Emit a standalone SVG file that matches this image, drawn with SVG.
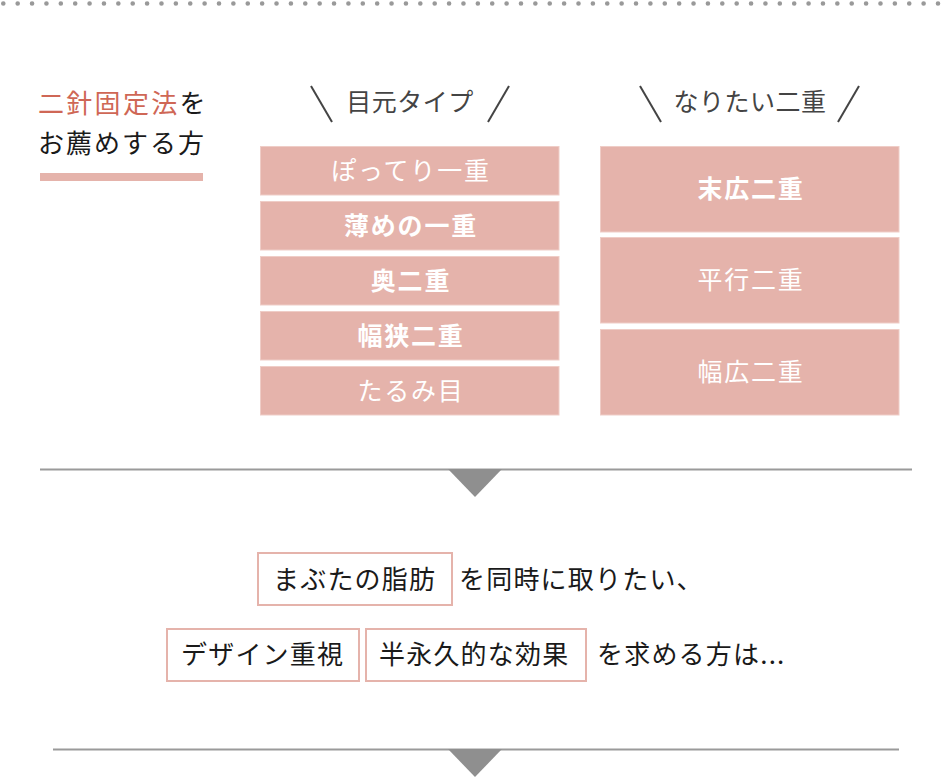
<svg xmlns="http://www.w3.org/2000/svg" width="950" height="777" viewBox="0 0 950 777">
<style>
text{font-family:"Noto Sans CJK JP","Noto Sans",sans-serif}
.box{fill:#e5b3ab;stroke:#efcdc7;stroke-width:1}
.bt{fill:#fff;font-size:25px;letter-spacing:1.8px;text-anchor:middle;font-weight:normal}
.b{font-weight:bold}
.hd{fill:#444;font-size:25px;letter-spacing:0.5px;text-anchor:middle}
.sl{stroke:#444;stroke-width:2;fill:none}
.ob{fill:#fff;stroke:#e5b3ab;stroke-width:2}
.tx{fill:#1a1a1a;font-size:26px;letter-spacing:1.2px}
.rule{stroke:#9a9a9a;stroke-width:2}
.tri{fill:#8f8f8f}
</style>
<line x1="3.3" y1="3.5" x2="950" y2="3.5" stroke="#999" stroke-width="4.6" stroke-linecap="round" stroke-dasharray="0 14.38"/>
<g id="title">
<text x="38" y="113" style="font-size:26px;letter-spacing:2.3px"><tspan fill="#cf6756">二針固定法</tspan><tspan fill="#1a1a1a">を</tspan></text>
<text x="38" y="153" style="font-size:26px;letter-spacing:2px" fill="#1a1a1a">お薦めする方</text>
<rect x="40" y="173" width="163" height="8" fill="#e5b3ab"/>
</g>
<g id="header-eye">
<line class="sl" x1="311" y1="86" x2="332" y2="122"/>
<line class="sl" x1="509" y1="86" x2="488" y2="122"/>
<text class="hd" x="410" y="111">目元タイプ</text>
</g>
<g id="header-want">
<line class="sl" x1="640" y1="86" x2="661" y2="122"/>
<line class="sl" x1="859" y1="86" x2="838" y2="122"/>
<text class="hd" x="750" y="111">なりたい二重</text>
</g>
<g id="eye-1"><rect class="box" x="260.5" y="146.5" width="298.5" height="48.5"/><text class="bt" x="411" y="180">ぽってり一重</text></g>
<g id="eye-2"><rect class="box" x="260.5" y="201.5" width="298.5" height="48.5"/><text class="bt b" x="411" y="235">薄めの一重</text></g>
<g id="eye-3"><rect class="box" x="260.5" y="256.5" width="298.5" height="48.5"/><text class="bt b" x="411" y="290">奥二重</text></g>
<g id="eye-4"><rect class="box" x="260.5" y="311.5" width="298.5" height="48.5"/><text class="bt b" x="411" y="345">幅狭二重</text></g>
<g id="eye-5"><rect class="box" x="260.5" y="366.5" width="298.5" height="48.5"/><text class="bt" x="411" y="400">たるみ目</text></g>
<g id="want-1"><rect class="box" x="600.5" y="146.5" width="298.5" height="85.5"/><text class="bt b" x="751" y="198">末広二重</text></g>
<g id="want-2"><rect class="box" x="600.5" y="237.5" width="298.5" height="85.5"/><text class="bt" x="751" y="289">平行二重</text></g>
<g id="want-3"><rect class="box" x="600.5" y="329.5" width="298.5" height="85.5"/><text class="bt" x="751" y="381">幅広二重</text></g>
<g id="connectors">
<line class="rule" x1="40" y1="469.5" x2="912" y2="469.5"/>
<polygon class="tri" points="448,469 502,469 475,497"/>
<line class="rule" x1="53" y1="749.5" x2="899" y2="749.5"/>
<polygon class="tri" points="448,749 502,749 475,777"/>
</g>
<g id="fat">
<rect class="ob" x="258" y="553" width="194" height="52"/>
<text class="tx" x="273" y="589">まぶたの脂肪</text>
</g>
<text class="tx" x="459" y="589">を同時に取りたい、</text>
<g id="design">
<rect class="ob" x="167" y="629" width="192" height="52"/>
<text class="tx" x="181" y="664">デザイン重視</text>
</g>
<g id="effect">
<rect class="ob" x="366" y="629" width="220" height="52"/>
<text class="tx" x="379" y="664">半永久的な効果</text>
</g>
<text class="tx" x="597" y="664">を求める方は...</text>
</svg>
